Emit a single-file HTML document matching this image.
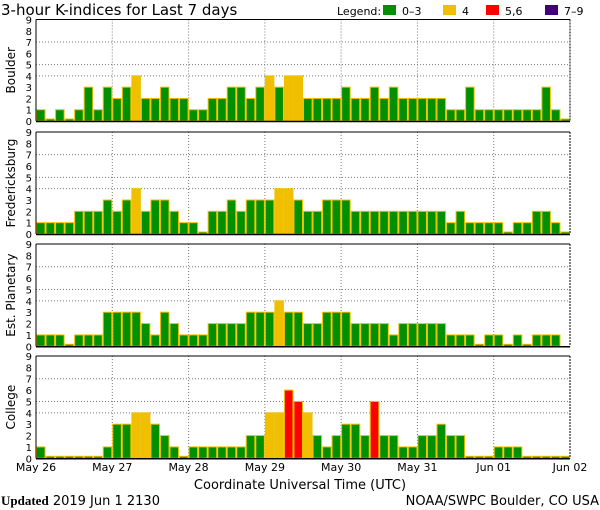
<!DOCTYPE html>
<html><head><meta charset="utf-8"><style>
html,body{margin:0;padding:0;background:#fff;}
svg{display:block;font-family:"DejaVu Sans","Liberation Sans",sans-serif;}
</style></head><body>
<svg id="chart" width="600" height="510" viewBox="0 0 600 510"></svg>
<script>
const stations = ["Boulder","Fredericksburg","Est. Planetary","College"];
const boulder = [1,0,1,0,1,3,1,3, 2,3,4,2,2,3,2,2, 1,1,2,2,3,3,2,3, 4,3,4,4,2,2,2,2, 3,2,2,3,2,3,2,2, 2,2,2,1,1,3,1,1, 1,1,1,1,1,3,1,0];
const fredericksburg = [1,1,1,1,2,2,2,3, 2,3,4,2,3,3,2,1, 1,0,2,2,3,2,3,3, 3,4,4,3,2,2,3,3, 3,2,2,2,2,2,2,2, 2,2,2,1,2,1,1,1, 1,0,1,1,2,2,1,0];
const planetary = [1,1,1,0,1,1,1,3, 3,3,3,2,1,3,2,1, 1,1,2,2,2,2,3,3, 3,4,3,3,2,2,3,3, 3,2,2,2,2,1,2,2, 2,2,2,1,1,1,0,1, 1,0,1,0,1,1,1,null];
const college = [1,0,0,0,0,0,0,1, 3,3,4,4,3,2,1,0, 1,1,1,1,1,1,2,2, 4,4,6,5,4,2,1,2, 3,3,2,5,2,2,1,1, 2,2,3,2,2,0,0,0, 1,1,1,0,0,0,0,0];
const dayLabels = ["May 26","May 27","May 28","May 29","May 30","May 31","Jun 01","Jun 02"];
const yTicks = [0,1,2,3,4,5,6,7,8,9];
const gridLevels = [4,5,7];
const series = [boulder,fredericksburg,planetary,college];

const NS="http://www.w3.org/2000/svg";
const svg=document.getElementById('chart');
function mk(tag,attrs,parent){const e=document.createElementNS(NS,tag);for(const k in attrs)e.setAttribute(k,attrs[k]);(parent||svg).appendChild(e);return e;}
const X0=36,X1=570,N=56;
const bw=(X1-X0)/N;
const xScale=i=>X0+i*bw;
const dayX=d=>X0+d*(X1-X0)/7;
const tops=[19.5,132,244,356], bases=[121,234,346.3,458.3];
function color(v){return v<=3?"#009000":v===4?"#f0c000":v<=6?"#ff0000":"#400080";}

// title
let t=mk('text',{x:1,y:15,'font-size':15,fill:'#000'});t.textContent="3-hour K-indices for Last 7 days";

// legend
let lg=mk('g',{});
let lt=mk('text',{x:337,y:15,'font-size':11},lg);lt.textContent="Legend:";
const legItems=[["0–3","#009000",383],["4","#f0c000",443],["5,6","#ff0000",486],["7–9","#400080",545]];
legItems.forEach(l=>{
  const g=mk('g',{},lg);
  
  mk('rect',{x:l[2],y:5,width:13,height:10,fill:l[1]},g);
  const tx=mk('text',{x:l[2]+19,y:15,'font-size':11},g);tx.textContent=l[0];
});

series.forEach((data,p)=>{
  const top=tops[p],base=bases[p],unit=(base-top)/9;
  const yS=v=>base-v*unit;
  const g=mk('g',{});
  
  
  // grid
  gridLevels.forEach(l=>mk('line',{x1:X0,x2:X1,y1:yS(l),y2:yS(l),stroke:'#777','stroke-dasharray':'1,2'},g));
  for(let d=1;d<7;d++)mk('line',{x1:dayX(d),x2:dayX(d),y1:top,y2:base,stroke:'#777','stroke-dasharray':'1,2'},g);
  // bars
  data.forEach((v,i)=>{
    if(v===null)return;
    const h=v===0?2:v*unit;
    const r=mk('rect',{x:xScale(i)+0.5,y:base-h,width:bw-1,height:h,fill:color(v),stroke:'#f0c000','stroke-width':1},g);
    
    
  });
  // frame
  mk('line',{x1:X0,x2:X1,y1:top,y2:top,stroke:'#000','stroke-width':1},g);
  mk('line',{x1:X0,x2:X0,y1:top,y2:base,stroke:'#000','stroke-width':1},g);
  mk('line',{x1:X1,x2:X1,y1:top,y2:base,stroke:'#000','stroke-width':1,'stroke-dasharray':'2,1'},g);
  mk('line',{x1:X0,x2:X1,y1:base+0.5,y2:base+0.5,stroke:'#000','stroke-width':1.5},g);
  // y ticks
  yTicks.forEach(v=>{const tt=mk('text',{x:32,y:yS(v)+4,'font-size':10,'text-anchor':'end'},g);tt.textContent=v;});
  // label
  const cy=(top+base)/2;
  const lab=mk('text',{x:15,y:cy,'font-size':12,'text-anchor':'middle',transform:`rotate(-90 15 ${cy})`},g);
  lab.textContent=stations[p];
  
});
// x labels
dayLabels.forEach((d,i)=>{const tt=mk('text',{x:dayX(i),y:471,'font-size':11,'text-anchor':'middle'});tt.textContent=d;
  });
let xt=mk('text',{x:300,y:489,'font-size':13,'text-anchor':'middle'});xt.textContent="Coordinate Universal Time (UTC)";

let up=mk('text',{x:1,y:505,'font-size':13});
up.innerHTML='<tspan font-weight="bold" font-family="Liberation Serif, serif">Updated</tspan> 2019 Jun  1 2130';

let src=mk('text',{x:599,y:505,'font-size':13,'text-anchor':'end'});src.textContent="NOAA/SWPC Boulder, CO USA";

</script>
</body></html>
